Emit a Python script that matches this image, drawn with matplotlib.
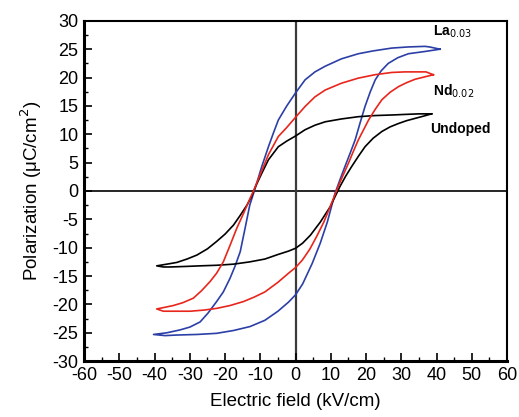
import matplotlib
matplotlib.use("Agg")
import matplotlib.pyplot as plt
from matplotlib.ticker import MultipleLocator

plt.rcParams['font.family'] = ['Liberation Sans', 'DejaVu Sans']

# Undoped loop (black): upper branch (from +tip) then lower branch (from -tip)
undoped_E = [38.6, 35, 31, 27.3, 22.5, 17.8, 13, 8.4, 5.5, 2.7, 0, -2.5, -4.9, -7.7, -9.6, -11.5, -12.5, -13.8, -15.7, -17.6, -20, -22.4, -25, -28, -30.8, -33.7, -36.5, -39.4,
             -37.5, -35.6, -31, -27.1, -22.4, -17.6, -13, -8.7, -5, -2, 0, 2, 4.2, 7, 9.8, 11.2, 12.6, 14.2, 15.9, 17.8, 19.7, 22, 24.5, 26.8, 29.2, 31.5, 33.9, 36.3, 38.6]
undoped_P = [13.6, 13.6, 13.5, 13.4, 13.3, 13.1, 12.7, 12.2, 11.6, 10.8, 9.7, 8.8, 7.8, 5.5, 3.1, 0.6, -1.0, -2.5, -4.3, -6.0, -7.6, -8.9, -10.2, -11.3, -12.0, -12.6, -12.9, -13.2,
             -13.4, -13.4, -13.3, -13.2, -13.1, -12.9, -12.5, -12.0, -11.2, -10.6, -10.1, -9.2, -7.8, -5.5, -2.8, -1.0, 0.8, 2.6, 4.3, 6.1, 7.8, 9.3, 10.5, 11.3, 11.9, 12.4, 12.8, 13.2, 13.6]

# Nd0.02 loop (red)
nd_E = [39.1, 37, 34.8, 31, 27.3, 22.5, 17.8, 13, 8.4, 5.5, 2.7, 0, -2.5, -4.9, -7.7, -10.1, -11.8, -12.9, -14.8, -16.7, -18.6, -20.5, -22.4, -24.3, -26.7, -29, -32, -34.7, -37, -39.4,
        -37.5, -33.5, -29.9, -26, -22.4, -18.6, -14.8, -11.7, -8.7, -5, -2, 0, 1.9, 4, 6, 8, 9.8, 12.1, 13.5, 15, 16.4, 17.8, 20.7, 22.6, 24.5, 26.8, 29.2, 31.5, 33.9, 36.5, 39.1]
nd_P = [20.5, 21.0, 21.0, 21.0, 20.9, 20.5, 19.9, 19.0, 17.8, 16.6, 14.9, 13.0, 11.2, 9.6, 6.4, 2.8, 0.2, -1.3, -4.0, -6.6, -9.6, -12.5, -14.5, -16.0, -17.6, -18.9, -19.7, -20.2, -20.5, -20.8,
        -21.2, -21.2, -21.2, -21.0, -20.7, -20.2, -19.5, -18.7, -17.8, -16.1, -14.5, -13.5, -12.2, -10.3, -8.0, -5.5, -2.8, 0.8, 2.8, 4.9, 7.0, 9.0, 12.5, 14.4, 16.1, 17.4, 18.4, 19.1, 19.7, 20.1, 20.5]

# La0.03 loop (blue)
la_E = [41, 38, 36.7, 32, 27.3, 22, 17.8, 13, 8.4, 5.5, 2.7, 0, -2.5, -4.9, -6.3, -7.7, -9.6, -11.5, -13, -14.3, -15.7, -17.2, -18.6, -20.5, -22.4, -24.8, -27.1, -30, -32.8, -36.5, -40.3,
        -37, -33.7, -28, -22.4, -17.6, -12.9, -8.7, -5, -2, 0, 2, 4.7, 7, 9, 11.2, 12.6, 14, 15.5, 16.9, 18.3, 19.7, 21.2, 22.6, 24.3, 26.3, 29, 32, 36.7, 41]
la_P = [25.0, 25.4, 25.5, 25.4, 25.2, 24.7, 24.2, 23.3, 22.0, 21.0, 19.6, 17.3, 15.0, 12.5, 10.2, 7.8, 4.3, 0.4, -2.5, -6.5, -10.7, -13.3, -15.4, -17.8, -19.5, -21.5, -23.1, -24.0, -24.5, -25.0, -25.3,
        -25.5, -25.4, -25.3, -25.1, -24.6, -23.9, -22.8, -21.2, -19.6, -18.3, -16.4, -12.8, -9.2, -5.5, -0.4, 2.0, 4.3, 6.7, 9.0, 12.0, 14.9, 17.5, 19.6, 21.2, 22.5, 23.5, 24.2, 24.6, 25.0]

x_ticks = [-60, -50, -40, -30, -20, -10, 0, 10, 20, 30, 40, 50, 60]
y_ticks = [-30, -25, -20, -15, -10, -5, 0, 5, 10, 15, 20, 25, 30]

fig = plt.figure(figsize=(5.19, 4.17), dpi=100)
ax = fig.add_axes([0.162, 0.134, 0.815, 0.816])

ax.axhline(0, color='black', lw=1.2, zorder=1)
ax.axvline(0, color='#3c3c3c', lw=1.6, zorder=1)

ax.plot(undoped_E, undoped_P, color='black', lw=1.2, zorder=3, solid_joinstyle='round')
ax.plot(nd_E, nd_P, color='#e8261c', lw=1.2, zorder=3, solid_joinstyle='round')
ax.plot(la_E, la_P, color='#2c3fa6', lw=1.2, zorder=2, solid_joinstyle='round')

ax.set_xlim(-60, 60)
ax.set_ylim(-30, 30)
ax.set_xticks(x_ticks)
ax.set_yticks(y_ticks)
ax.set_xticklabels([str(t) for t in x_ticks])
ax.set_yticklabels([str(t) for t in y_ticks])
ax.xaxis.set_minor_locator(MultipleLocator(5))
ax.yaxis.set_minor_locator(MultipleLocator(2.5))
ax.tick_params(which='major', direction='in', length=6, width=1.2, labelsize=13, pad=4,
               top=False, right=False)
ax.tick_params(which='minor', direction='in', length=3, width=1.0, top=False, right=False)

for side in ['left', 'bottom']:
    ax.spines[side].set_linewidth(2.2)
for side in ['top', 'right']:
    ax.spines[side].set_linewidth(1.5)

ax.set_xlabel('Electric field (kV/cm)', fontsize=13.5, labelpad=7)
ax.set_ylabel('Polarization (\u03bcC/cm$^2$)', fontsize=13.5, labelpad=6)

ax.text(39, 28.0, 'La$_{0.03}$', fontsize=10, fontweight='bold', ha='left', va='center')
ax.text(39, 17.6, 'Nd$_{0.02}$', fontsize=10, fontweight='bold', ha='left', va='center')
ax.text(38.2, 11.0, 'Undoped', fontsize=10, fontweight='bold', ha='left', va='center')

fig.savefig('out.png', dpi=100)
